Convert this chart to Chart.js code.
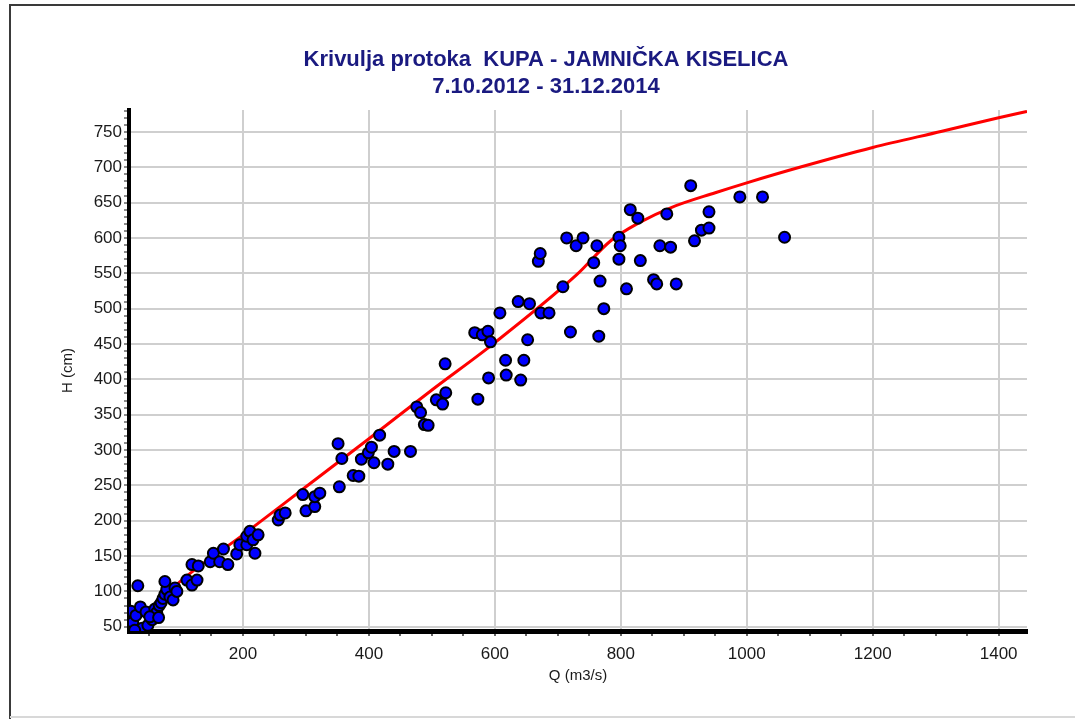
<!DOCTYPE html>
<html>
<head>
<meta charset="utf-8">
<script src="https://cdn.jsdelivr.net/npm/chart.js@4.4.1/dist/chart.umd.min.js"></script>
<style>
  html, body { margin: 0; padding: 0; background: #fff; overflow: hidden; }
  canvas { display: block; }
</style>
</head>
<body>
<canvas id="chart" width="1075" height="719"></canvas>
<script>
// Krivulja protoka — mjerenja (Q, H) i krivulja protoka

// measured points
const measQ = [
  33, 22, 25, 30, 37, 40, 46, 49, 56, 60, 63, 67, 70, 73, 76, 79, 76, 84, 89, 92, 95, 28, 52, 66,
  111, 119, 119, 127, 129, 148, 153, 163, 169, 176, 190, 195, 206, 206, 211, 216, 224, 219,
  256, 259, 267, 295, 300, 314, 314, 322, 351, 357, 353, 375, 384, 388, 399, 404, 408, 417,
  430, 440, 466, 476, 482, 488, 494, 507, 517, 522, 521, 573, 568, 580, 589, 593, 590,
  608, 617, 618, 641, 646, 652, 637, 655, 673, 686, 669, 672, 708, 714, 720, 729, 740,
  757, 762, 765, 767, 773, 797, 799, 797, 809, 815, 827, 831, 852, 857, 862, 873, 879, 888,
  911, 917, 928, 940, 940, 989, 1025, 1060
];
const measH = [
  108, 72, 56, 66, 78, 48, 71, 52, 60, 75, 70, 80, 84, 90, 96, 103, 114, 92, 88, 105, 100, 45, 64, 63,
  116, 109, 138, 116, 136, 142, 154, 142, 160, 138, 153, 166, 166, 178, 185, 173, 180, 154,
  201, 208, 211, 237, 214, 220, 234, 239, 309, 288, 248, 264, 263, 287, 296, 304, 282, 321,
  280, 298, 298, 361, 353, 336, 335, 371, 365, 381, 422, 372, 466, 463, 468, 453, 402,
  494, 427, 406, 399, 427, 456, 510, 507, 494, 494, 567, 578, 531, 600, 467, 589, 600,
  565, 589, 461, 539, 500, 601, 589, 570, 528, 640, 628, 568, 541, 535, 589, 634, 587, 535,
  674, 596, 611, 614, 637, 658, 658, 601
];

// rating curve
const curveQ = [35, 60, 90, 200, 300, 400, 500, 600, 730, 784, 830, 880, 950, 1000, 1084, 1200, 1310, 1400, 1445];
const curveH = [44, 77, 106, 180, 248, 316, 385, 452, 548, 596, 622, 643, 664, 678, 700, 728, 751, 770, 779];

const titleLines = ["Krivulja protoka  KUPA - JAMNIČKA KISELICA", "7.10.2012 - 31.12.2014"];
const xTitle = "Q (m3/s)";
const yTitle = "H (cm)";

const NARROW = "'Liberation Sans Narrow', 'Arial Narrow', 'Liberation Sans', Arial, sans-serif";
const SANS = "'Liberation Sans', Arial, sans-serif";

// white page + thin frame round it
const framePlugin = {
  id: "frame",
  afterLayout: function (chart) {
    // centre the title on the page, not on the padded box
    if (chart.titleBlock) chart.titleBlock.right = chart.titleBlock.left + 1092;
  },
  beforeDraw: function (chart) {
    var c = chart.ctx;
    c.save();
    c.fillStyle = "#fff";
    c.fillRect(0, 0, chart.width, chart.height);
    c.strokeStyle = "#3a3a3a";
    c.lineWidth = 2;
    c.beginPath();
    c.moveTo(10, chart.height);
    c.lineTo(10, 5);
    c.lineTo(chart.width, 5);
    c.stroke();
    c.strokeStyle = "#d8d8d8";
    c.beginPath();
    c.moveTo(10, 717);
    c.lineTo(chart.width, 717);
    c.stroke();
    c.restore();
  },
};

function pairs(xs, ys) {
  return xs.map(function (x, i) { return { x: x, y: ys[i] }; });
}

new Chart(document.getElementById("chart"), {
  type: "scatter",
  data: {
    datasets: [
      {
        label: "mjerenja",
        data: pairs(measQ, measH),
        backgroundColor: "#0000ff",
        borderColor: "#000",
        borderWidth: 2,
        pointRadius: 5.5,
        pointHoverRadius: 5.5,
      },
      {
        label: "krivulja",
        data: pairs(curveQ, curveH),
        showLine: true,
        borderColor: "#ff0000",
        borderWidth: 3,
        pointRadius: 0,
        cubicInterpolationMode: "monotone",
      },
    ],
  },
  options: {
    responsive: false,
    animation: false,
    layout: { padding: { left: 0, right: 48, top: 0, bottom: 0 } },
    plugins: {
      legend: { display: false },
      tooltip: { enabled: false },
      title: {
        display: true,
        text: titleLines,
        color: "#1a1a80",
        font: { family: NARROW, size: 22, weight: "bold", lineHeight: 1.25 },
        padding: { top: 46, bottom: 9 },
      },
    },
    scales: {
      x: {
        type: "linear",
        min: 19,
        max: 1445,
        afterFit: function (s) { s.height = 88; },
        ticks: {
          stepSize: 50,
          autoSkip: false,
          includeBounds: false,
          maxRotation: 0,
          padding: 8,
          color: "#1a1a1a",
          font: { family: NARROW, size: 17 },
          callback: function (v) { return v % 200 === 0 ? v : ""; },
        },
        grid: {
          color: function (c) { return c.tick && c.tick.value % 200 === 0 ? "#cfcfcf" : "rgba(0,0,0,0)"; },
          lineWidth: 2,
          tickColor: "#333",
          tickLength: 5,
          tickWidth: 1.5,
        },
        border: { display: true, color: "#000", width: 5 },
        title: {
          display: true,
          text: xTitle,
          color: "#1a1a1a",
          font: { family: SANS, size: 15 },
          padding: { top: 0, bottom: 34 },
        },
      },
      y: {
        type: "linear",
        min: 44,
        max: 781,
        afterFit: function (s) { s.width = 129; },
        ticks: {
          stepSize: 10,
          autoSkip: false,
          includeBounds: false,
          padding: 2,
          color: "#1a1a1a",
          font: { family: SANS, size: 17 },
          callback: function (v) { return v % 50 === 0 ? v : ""; },
        },
        grid: {
          color: function (c) { return c.tick && c.tick.value % 50 === 0 ? "#cfcfcf" : "rgba(0,0,0,0)"; },
          lineWidth: 2,
          tickColor: "#666",
          tickLength: 5,
          tickWidth: 1.5,
        },
        border: { display: true, color: "#000", width: 4 },
        title: {
          display: true,
          text: yTitle,
          color: "#1a1a1a",
          font: { family: SANS, size: 15 },
          padding: { top: 59, bottom: 0 },
        },
      },
    },
  },
  plugins: [framePlugin],
});
</script>
</body>
</html>
